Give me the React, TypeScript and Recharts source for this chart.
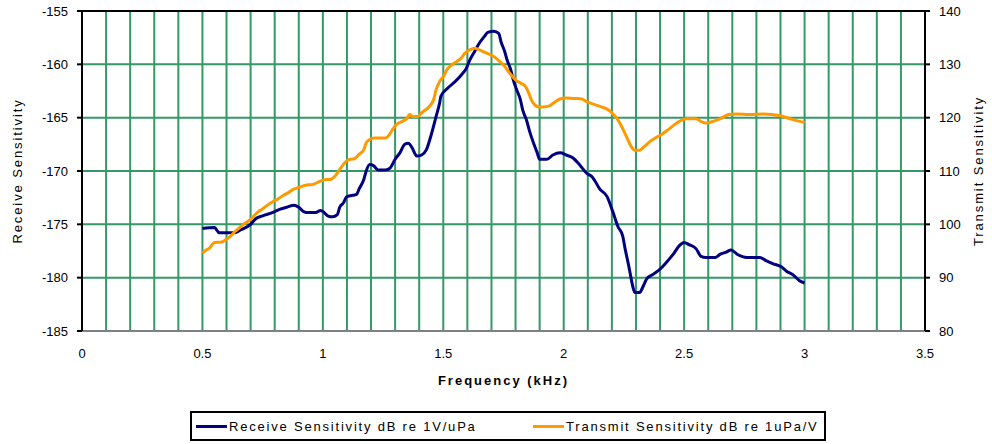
import React from 'react';
import {
  CartesianGrid,
  Legend,
  Line,
  LineChart,
  ReferenceLine,
  XAxis,
  YAxis,
} from 'recharts';

// receive sensitivity (dB re 1V/uPa)
const FREQ_RX = [
  0.5, 0.55, 0.57, 0.63, 0.66, 0.7, 0.72, 0.75, 0.79, 0.82, 0.85, 0.88, 0.9, 0.92, 0.94, 0.97,
  0.99, 1.0, 1.02, 1.04, 1.06, 1.07, 1.085, 1.1, 1.14, 1.15, 1.17, 1.18, 1.195, 1.21, 1.23, 1.26,
  1.28, 1.3, 1.32, 1.34, 1.355, 1.37, 1.39, 1.41, 1.43, 1.45, 1.47, 1.485, 1.49, 1.52, 1.55,
  1.575, 1.595, 1.61, 1.63, 1.65, 1.67, 1.685, 1.71, 1.73, 1.74, 1.755, 1.765, 1.78, 1.79, 1.805,
  1.82, 1.83, 1.845, 1.86, 1.875, 1.89, 1.9, 1.93, 1.955, 1.985, 2.01, 2.04, 2.065, 2.095, 2.12,
  2.15, 2.18, 2.205, 2.225, 2.245, 2.255, 2.27, 2.275, 2.29, 2.295, 2.315, 2.33, 2.345, 2.37, 2.4,
  2.425, 2.455, 2.48, 2.5, 2.52, 2.55, 2.57, 2.59, 2.63, 2.65, 2.675, 2.695, 2.72, 2.76, 2.815,
  2.84, 2.87, 2.905, 2.925, 2.95, 2.98, 3.0,
];
const RX_DB = [
  -175.4, -175.3, -175.8, -175.8, -175.5, -175.0, -174.5, -174.2, -173.9, -173.6, -173.4, -173.2,
  -173.4, -173.8, -173.9, -173.9, -173.7, -173.8, -174.2, -174.3, -174.1, -173.4, -173.0, -172.4,
  -172.2, -171.7, -170.8, -170.0, -169.4, -169.5, -169.9, -169.9, -169.7, -168.9, -168.3, -167.5,
  -167.4, -167.8, -168.6, -168.5, -168.0, -166.6, -164.9, -163.6, -163.0, -162.2, -161.6, -161.0,
  -160.4, -159.6, -158.8, -158.0, -157.4, -157.0, -156.9, -157.1, -157.9, -158.8, -159.6, -160.5,
  -161.4, -162.4, -163.3, -164.3, -165.2, -166.4, -167.4, -168.3, -168.9, -168.9, -168.5, -168.3,
  -168.5, -168.8, -169.4, -170.2, -170.6, -171.7, -172.4, -173.9, -175.2, -176.1, -177.3, -178.9,
  -179.5, -181.1, -181.4, -181.4, -180.8, -180.1, -179.7, -179.2, -178.6, -177.8, -177.0, -176.7,
  -176.9, -177.3, -178.0, -178.1, -178.1, -177.8, -177.6, -177.4, -177.8, -178.1, -178.1, -178.4,
  -178.7, -179.0, -179.4, -179.7, -180.3, -180.5,
];

// transmit sensitivity (dB re 1uPa/V)
const FREQ_TX = [
  0.5, 0.51, 0.53, 0.55, 0.58, 0.6, 0.615, 0.63, 0.65, 0.67, 0.69, 0.71, 0.73, 0.75, 0.77, 0.79,
  0.815, 0.835, 0.855, 0.875, 0.9, 0.925, 0.96, 0.98, 0.995, 1.015, 1.03, 1.05, 1.07, 1.09, 1.105,
  1.13, 1.15, 1.17, 1.18, 1.195, 1.215, 1.26, 1.28, 1.29, 1.305, 1.33, 1.35, 1.36, 1.375, 1.395,
  1.41, 1.44, 1.46, 1.47, 1.485, 1.5, 1.515, 1.535, 1.555, 1.575, 1.59, 1.61, 1.63, 1.65, 1.67,
  1.695, 1.715, 1.735, 1.755, 1.775, 1.8, 1.82, 1.84, 1.855, 1.865, 1.88, 1.895, 1.915, 1.94,
  1.965, 1.985, 2.01, 2.04, 2.075, 2.095, 2.12, 2.15, 2.18, 2.2, 2.22, 2.24, 2.26, 2.28, 2.295,
  2.315, 2.335, 2.36, 2.38, 2.405, 2.435, 2.46, 2.48, 2.51, 2.55, 2.57, 2.59, 2.62, 2.65, 2.685,
  2.72, 2.77, 2.83, 2.895, 2.94, 2.98, 3.0,
];
const TX_DB = [
  94.6, 95.0, 95.6, 96.6, 96.7, 97.2, 97.7, 98.4, 99.2, 100.0, 100.6, 101.4, 102.3, 102.9, 103.6,
  104.2, 104.8, 105.4, 105.9, 106.5, 106.9, 107.3, 107.5, 107.9, 108.2, 108.4, 108.4, 109.0, 110.3,
  111.5, 112.1, 112.3, 113.1, 114.0, 115.3, 115.9, 116.2, 116.2, 117.1, 117.8, 118.7, 119.3, 119.9,
  120.6, 120.2, 120.2, 120.9, 122.0, 123.4, 125.2, 126.8, 127.7, 129.0, 129.9, 130.5, 131.2, 132.1,
  132.7, 133.0, 132.7, 132.3, 131.8, 131.3, 130.5, 129.6, 128.4, 127.1, 126.5, 125.9, 124.6, 123.4,
  122.4, 122.0, 122.0, 122.2, 123.0, 123.5, 123.7, 123.6, 123.5, 123.0, 122.6, 122.1, 121.6, 120.9,
  119.9, 118.4, 116.5, 114.6, 113.9, 113.9, 114.6, 115.6, 116.2, 116.8, 117.8, 118.7, 119.3, 119.8,
  119.8, 119.3, 119.0, 119.3, 119.8, 120.6, 120.7, 120.6, 120.7, 120.4, 119.8, 119.3, 119.1,
];

const X_TICKS = [
  0, 0.1, 0.2, 0.3, 0.4, 0.5, 0.6, 0.7, 0.8, 0.9, 1, 1.1, 1.2, 1.3, 1.4, 1.5, 1.6, 1.7, 1.8, 1.9,
  2, 2.1, 2.2, 2.3, 2.4, 2.5, 2.6, 2.7, 2.8, 2.9, 3, 3.1, 3.2, 3.3, 3.4, 3.5,
];
const X_LABELS = [0, 0.5, 1, 1.5, 2, 2.5, 3, 3.5];
const LEFT_TICKS = [-185, -180, -175, -170, -165, -160, -155];
const RIGHT_TICKS = [80, 90, 100, 110, 120, 130, 140];

const RX_NAME = 'Receive Sensitivity dB re 1V/uPa';
const TX_NAME = 'Transmit Sensitivity dB re 1uPa/V';

const rxData = FREQ_RX.map((f, i) => ({ f, v: RX_DB[i] }));
const txData = FREQ_TX.map((f, i) => ({ f, v: TX_DB[i] }));

const GRID = '#339966';
const FONT = '"Liberation Sans", Arial, sans-serif';
const TICK = { fontSize: 13, fill: '#000', fontFamily: FONT };
const TITLE = { fontSize: 13, letterSpacing: 1.9, fill: '#000', fontFamily: FONT };

function LegendBox() {
  const item = (color: string, text: string) => (
    <div style={{ display: 'flex', alignItems: 'center' }}>
      <div style={{ width: 31, height: 3, background: color, marginRight: 2 }} />
      <span style={{ fontSize: 13, letterSpacing: 1.8, color: '#000', whiteSpace: 'nowrap' }}>
        {text}
      </span>
    </div>
  );
  return (
    <div
      style={{
        boxSizing: 'border-box',
        width: 636,
        height: 30,
        border: '2px solid #000',
        display: 'flex',
        alignItems: 'center',
        paddingLeft: 4,
        fontFamily: FONT,
      }}
    >
      <div style={{ width: 337 }}>{item('#000080', RX_NAME)}</div>
      {item('#FF9900', TX_NAME)}
    </div>
  );
}

export default function App() {
  return (
    <div style={{ width: 992, height: 444, background: '#fff', fontFamily: FONT }}>
      <style>{'body{margin:0}'}</style>
      <LineChart width={992} height={444} margin={{ top: 11, right: 0, bottom: 83, left: 0 }}>
        <CartesianGrid
          yAxisId="left"
          stroke={GRID}
          strokeWidth={2}
          horizontalValues={LEFT_TICKS}
        />
        <XAxis
          dataKey="f"
          type="number"
          domain={[0, 3.5]}
          ticks={X_TICKS}
          interval={0}
          tickFormatter={(v: number) => (X_LABELS.includes(v) ? String(v) : '')}
          tickLine={false}
          tickMargin={12}
          axisLine={{ stroke: '#808080', strokeWidth: 2 }}
          tick={TICK}
          height={30}
          allowDataOverflow
          label={{
            value: 'Frequency (kHz)',
            position: 'bottom',
            offset: 15,
            style: { ...TITLE, fontWeight: 700, letterSpacing: 2 },
          }}
        />
        <YAxis
          yAxisId="left"
          domain={[-185, -155]}
          ticks={LEFT_TICKS}
          interval={0}
          width={82}
          tickSize={5}
          tickMargin={9}
          tickLine={{ stroke: '#000', strokeWidth: 2 }}
          axisLine={{ stroke: '#000', strokeWidth: 2 }}
          tick={TICK}
          allowDataOverflow
          label={{
            value: 'Receive Sensitivity',
            angle: -90,
            position: 'center',
            dx: -24,
            style: TITLE,
          }}
        />
        <YAxis
          yAxisId="right"
          orientation="right"
          domain={[80, 140]}
          ticks={RIGHT_TICKS}
          interval={0}
          width={67}
          tickSize={5}
          tickMargin={9}
          tickLine={{ stroke: '#000', strokeWidth: 2 }}
          axisLine={{ stroke: '#000', strokeWidth: 2 }}
          tick={TICK}
          allowDataOverflow
          label={{
            value: 'Transmit Sensitivity',
            angle: -90,
            position: 'center',
            dx: 20,
            style: TITLE,
          }}
        />
        <ReferenceLine yAxisId="left" y={-155} stroke="#000" strokeWidth={2} />
        <Line
          yAxisId="left"
          data={rxData}
          dataKey="v"
          name={RX_NAME}
          type="monotone"
          stroke="#000080"
          strokeWidth={3}
          dot={false}
          isAnimationActive={false}
        />
        <Line
          yAxisId="right"
          data={txData}
          dataKey="v"
          name={TX_NAME}
          type="monotone"
          stroke="#FF9900"
          strokeWidth={3}
          dot={false}
          isAnimationActive={false}
        />
        <Legend
          layout="vertical"
          align="center"
          verticalAlign="middle"
          wrapperStyle={{ left: 190, top: 411, width: 636, height: 30 }}
          content={() => <LegendBox />}
        />
      </LineChart>
    </div>
  );
}
